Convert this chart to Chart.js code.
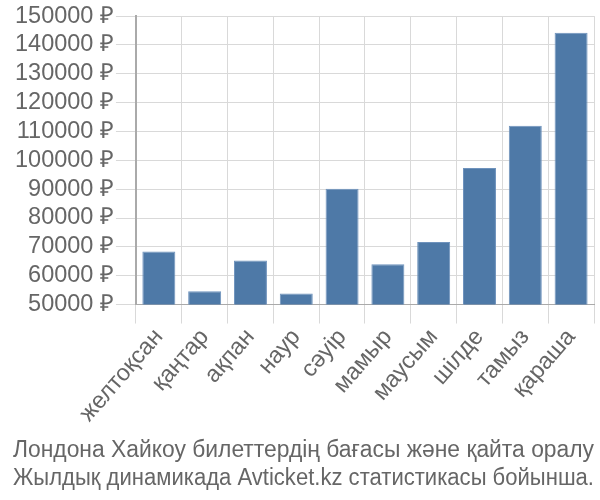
<!DOCTYPE html>
<html>
<head>
<meta charset="utf-8">
<script src="https://cdn.jsdelivr.net/npm/chart.js@4"></script>
<style>
html,body{margin:0;padding:0;background:#fff;}
#wrap{width:600px;height:500px;}
</style>
</head>
<body>
<div id="wrap"><canvas id="c" width="600" height="500"></canvas></div>
<script>
const categories = ["желтоқсан","қаңтар","ақпан","наур","сәуір","мамыр","маусым","шілде","тамыз","қараша"];
const prices = [68400, 54600, 65300, 53800, 90100, 64000, 71700, 97300, 112000, 144200];
const titleLines = ["Лондона Хайкоу билеттердің бағасы және қайта оралу","Жылдық динамикада Avticket.kz статистикасы бойынша."];
const yMin = 50000, yMax = 150000, yStep = 10000;

Chart.defaults.font.family = "'Liberation Sans', Arial, sans-serif";
Chart.defaults.color = "#666";

new Chart(document.getElementById('c'), {
  type: 'bar',
  data: {
    labels: categories,
    datasets: [{
      data: prices,
      backgroundColor: '#4e79a7',
      borderColor: '#6f93bd',
      borderWidth: 1,
      barPercentage: 0.72,
      categoryPercentage: 1.0
    }]
  },
  options: {
    responsive: false,
    animation: false,
    layout: {padding: {left: 13, right: 6, top: 2, bottom: 7}},
    plugins: {
      legend: {display: false},
      tooltip: {enabled: false},
      title: {
        display: true,
        position: 'bottom',
        text: titleLines,
        color: '#666',
        font: {size: 23.5, weight: 'normal', lineHeight: 1.2},
        padding: {top: 9, bottom: 0}
      }
    },
    scales: {
      x: {
        grid: {color: '#d9d9d9', lineWidth: 1, offset: true, tickLength: 19},
        border: {color: '#aaa', width: 1},
        ticks: {font: {size: 23.5}, color: '#666', minRotation: 49, maxRotation: 49, padding: 0, autoSkip: false}
      },
      y: {
        min: yMin, max: yMax,
        grid: {color: '#d9d9d9', lineWidth: 1, tickLength: 20},
        border: {color: '#aaa', width: 2},
        ticks: {
          stepSize: yStep,
          font: {size: 23.5},
          color: '#666',
          padding: 2,
          autoSkip: false,
          callback: v => v + ' ₽'
        }
      }
    }
  }
});
</script>
</body>
</html>
